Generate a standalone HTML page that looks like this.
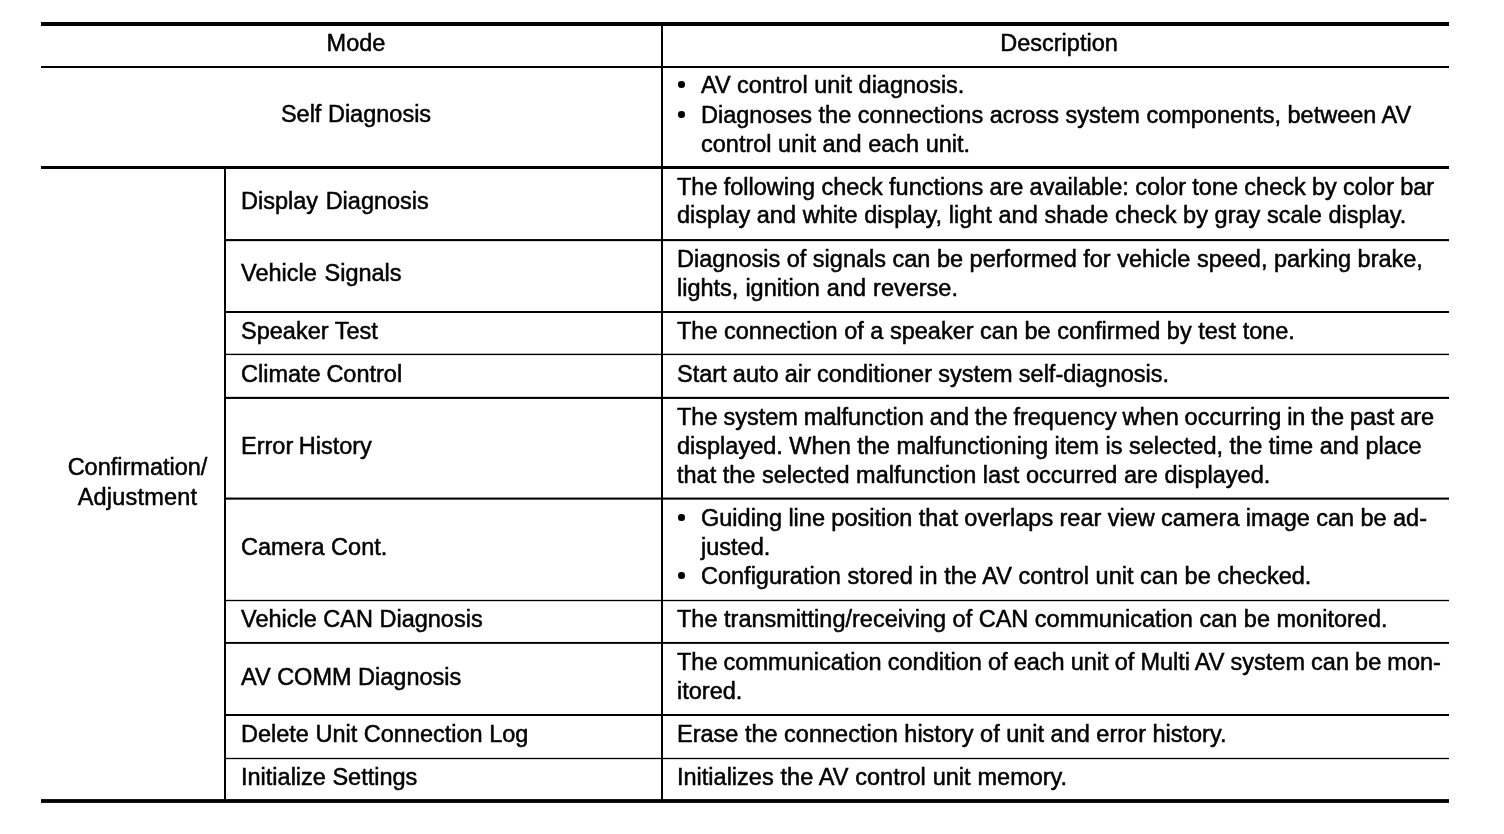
<!DOCTYPE html>
<html lang="en">
<head>
<meta charset="utf-8">
<title>CONSULT Function - AV Control Unit</title>
<style>
html,body{margin:0;padding:0;background:#fff;}
body{width:1504px;height:834px;position:relative;overflow:hidden;
 font-family:"Liberation Sans",Arial,Helvetica,sans-serif;font-size:23.5px;line-height:29.0px;color:#000;}
.grid{position:absolute;left:0;top:0;fill:#000;}
.c{position:absolute;top:0;height:834px;white-space:nowrap;will-change:transform;-webkit-text-stroke:0.5px #000;}
.l{display:block;position:absolute;left:0;right:0;height:29.0px;}
.b::before{content:"";position:absolute;left:-22.6px;top:9.9px;width:6.6px;height:6.6px;border-radius:50%;background:#000;}
</style>
</head>
<body>
<svg class="grid" width="1504" height="834" viewBox="0 0 1504 834" aria-hidden="true">
<rect x="41" y="22.00" width="1408" height="4.00"/>
<rect x="41" y="66.00" width="1408" height="2.00"/>
<rect x="41" y="166.00" width="1408" height="3.00"/>
<rect x="225" y="239.05" width="1224" height="2.10"/>
<rect x="225" y="311.00" width="1224" height="2.00"/>
<rect x="225" y="353.70" width="1224" height="1.40"/>
<rect x="225" y="396.85" width="1224" height="2.10"/>
<rect x="225" y="497.55" width="1224" height="2.10"/>
<rect x="225" y="599.83" width="1224" height="1.35"/>
<rect x="225" y="641.95" width="1224" height="1.90"/>
<rect x="225" y="714.00" width="1224" height="2.00"/>
<rect x="225" y="757.85" width="1224" height="1.30"/>
<rect x="41" y="799.10" width="1408" height="3.80"/>
<rect x="661.00" y="24" width="2.00" height="777"/>
<rect x="224.00" y="167.5" width="2.00" height="633.5"/>
</svg>
<main role="table" aria-label="CONSULT function modes">
<div class="c th" role="columnheader" style="left:46.00px;width:620.00px;text-align:center;"><span class="l" id="h1" style="top:29.40px;">Mode</span></div>
<div class="c th" role="columnheader" style="left:666.00px;width:786.00px;text-align:center;"><span class="l" id="h2" style="top:29.40px;">Description</span></div>
<div class="c td" role="cell" style="left:46.00px;width:620.00px;text-align:center;"><span class="l" id="sd" style="top:100.40px;">Self Diagnosis</span></div>
<div class="c td" role="cell" style="left:701.00px;width:760.00px;"><span class="l b" id="self1" style="top:71.40px;word-spacing:-0.011px;">AV control unit diagnosis.</span><span class="l b" id="self2" style="top:101.40px;">Diagnoses the connections across system components, between AV</span><span class="l" id="self3" style="top:130.40px;">control unit and each unit.</span></div>
<div class="c td" role="cell" style="left:46.00px;width:183.00px;text-align:center;"><span class="l" id="ca1" style="top:453.40px;">Confirmation/</span><span class="l" id="ca2" style="top:483.40px;letter-spacing:0.2px;">Adjustment</span></div>
<div class="c td" role="cell" style="left:241.00px;width:420.00px;"><span class="l" id="m_disp" style="top:187.40px;word-spacing:1.069px;">Display Diagnosis</span></div>
<div class="c td" role="cell" style="left:676.80px;width:790.00px;"><span class="l" id="disp1" style="top:173.40px;word-spacing:-0.278px;">The following check functions are available: color tone check by color bar</span><span class="l" id="disp2" style="top:201.40px;word-spacing:0.122px;">display and white display, light and shade check by gray scale display.</span></div>
<div class="c td" role="cell" style="left:241.00px;width:420.00px;"><span class="l" id="m_veh" style="top:259.40px;word-spacing:1.200px;">Vehicle Signals</span></div>
<div class="c td" role="cell" style="left:676.80px;width:790.00px;"><span class="l" id="veh1" style="top:245.40px;">Diagnosis of signals can be performed for vehicle speed, parking brake,</span><span class="l" id="veh2" style="top:274.40px;word-spacing:0.466px;">lights, ignition and reverse.</span></div>
<div class="c td" role="cell" style="left:241.00px;width:420.00px;"><span class="l" id="m_spk" style="top:317.40px;">Speaker Test</span></div>
<div class="c td" role="cell" style="left:676.80px;width:790.00px;"><span class="l" id="spk1" style="top:317.40px;">The connection of a speaker can be confirmed by test tone.</span></div>
<div class="c td" role="cell" style="left:241.00px;width:420.00px;"><span class="l" id="m_clim" style="top:360.40px;word-spacing:-0.800px;">Climate Control</span></div>
<div class="c td" role="cell" style="left:676.80px;width:790.00px;"><span class="l" id="clim1" style="top:360.40px;word-spacing:-0.340px;">Start auto air conditioner system self-diagnosis.</span></div>
<div class="c td" role="cell" style="left:241.00px;width:420.00px;"><span class="l" id="m_err" style="top:432.40px;word-spacing:-1.000px;">Error History</span></div>
<div class="c td" role="cell" style="left:676.80px;width:790.00px;"><span class="l" id="err1" style="top:403.40px;word-spacing:-0.636px;">The system malfunction and the frequency when occurring in the past are</span><span class="l" id="err2" style="top:432.40px;">displayed. When the malfunctioning item is selected, the time and place</span><span class="l" id="err3" style="top:461.40px;word-spacing:0.026px;">that the selected malfunction last occurred are displayed.</span></div>
<div class="c td" role="cell" style="left:241.00px;width:420.00px;"><span class="l" id="m_cam" style="top:533.40px;">Camera Cont.</span></div>
<div class="c td" role="cell" style="left:701.00px;width:790.00px;"><span class="l b" id="cam1" style="top:504.40px;word-spacing:-0.145px;">Guiding line position that overlaps rear view camera image can be ad-</span><span class="l" id="cam2" style="top:533.40px;">justed.</span><span class="l b" id="cam3" style="top:562.40px;word-spacing:0.083px;">Configuration stored in the AV control unit can be checked.</span></div>
<div class="c td" role="cell" style="left:241.00px;width:420.00px;"><span class="l" id="m_can" style="top:605.40px;">Vehicle CAN Diagnosis</span></div>
<div class="c td" role="cell" style="left:676.80px;width:790.00px;"><span class="l" id="can1" style="top:605.40px;">The transmitting/receiving of CAN communication can be monitored.</span></div>
<div class="c td" role="cell" style="left:241.00px;width:420.00px;"><span class="l" id="m_av" style="top:663.10px;">AV COMM Diagnosis</span></div>
<div class="c td" role="cell" style="left:676.80px;width:790.00px;"><span class="l" id="av1" style="top:648.40px;word-spacing:-0.417px;">The communication condition of each unit of Multi AV system can be mon-</span><span class="l" id="av2" style="top:677.40px;">itored.</span></div>
<div class="c td" role="cell" style="left:241.00px;width:420.00px;"><span class="l" id="m_del" style="top:720.40px;">Delete Unit Connection Log</span></div>
<div class="c td" role="cell" style="left:676.80px;width:790.00px;"><span class="l" id="del1" style="top:720.40px;">Erase the connection history of unit and error history.</span></div>
<div class="c td" role="cell" style="left:241.00px;width:420.00px;"><span class="l" id="m_init" style="top:763.40px;">Initialize Settings</span></div>
<div class="c td" role="cell" style="left:676.80px;width:790.00px;"><span class="l" id="init1" style="top:763.40px;word-spacing:0.360px;">Initializes the AV control unit memory.</span></div>
</main>
</body>
</html>
